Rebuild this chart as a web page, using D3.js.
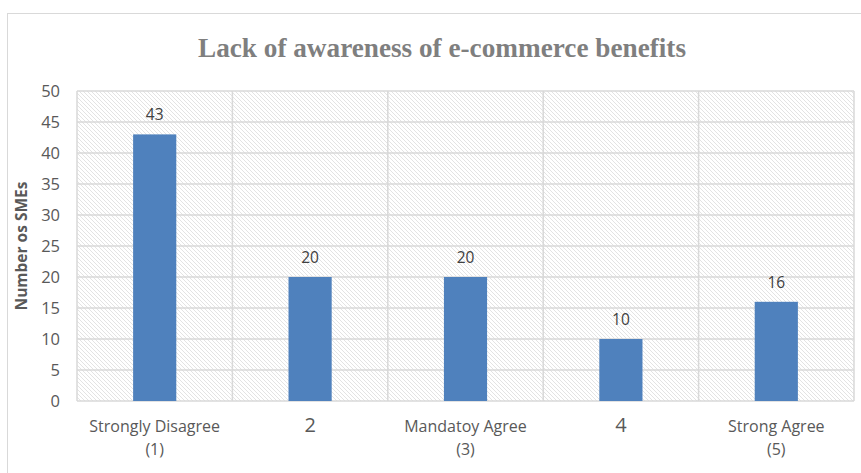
<!DOCTYPE html>
<html>
<head>
<meta charset="utf-8">
<script src="https://cdn.jsdelivr.net/npm/d3@7/dist/d3.min.js"></script>
<style>
  html, body { margin: 0; padding: 0; background: #fff; }
  svg { display: block; }
</style>
</head>
<body>
<svg id="chart" width="861" height="473"></svg>
<script>
// Survey responses: number of SMEs per answer
const categories = ["Strongly Disagree|(1)", "2", "Mandatoy Agree|(3)", "4", "Strong Agree|(5)"];
const values = [43, 20, 20, 10, 16];
const yTicks = [0, 5, 10, 15, 20, 25, 30, 35, 40, 45, 50];
const titleText = "Lack of awareness of e-commerce benefits";
const yLabelText = "Number os SMEs";

const svg = d3.select("#chart");
const W = 861, H = 473;
const plot = { left: 77, right: 854, top: 91, bottom: 401 };

// Outer chart frame
svg.append("rect")
  .attr("x", 7.5).attr("y", 13.5)
  .attr("width", W + 10).attr("height", H + 10)
  .attr("fill", "#fff").attr("stroke", "#d9d9d9").attr("stroke-width", 1);

// Diagonal hatch fill for the plot area
const defs = svg.append("defs");
const pat = defs.append("pattern")
  .attr("id", "hatch").attr("patternUnits", "userSpaceOnUse")
  .attr("width", 4).attr("height", 4);
pat.append("rect").attr("width", 4).attr("height", 4).attr("fill", "#fff");
pat.append("path").attr("d", "M-1,-1 L5,5 M-1,3 L1,5 M3,-1 L5,1")
  .attr("stroke", "#e3e3e3").attr("stroke-width", 1);

const x = d3.scaleBand().domain(categories).range([plot.left, plot.right]).paddingInner(0).paddingOuter(0);
const y = d3.scaleLinear().domain([0, 50]).range([plot.bottom, plot.top]);

svg.append("rect")
  .attr("x", plot.left).attr("y", plot.top)
  .attr("width", plot.right - plot.left).attr("height", plot.bottom - plot.top)
  .attr("fill", "url(#hatch)");

// Horizontal gridlines
svg.append("g").selectAll("line").data(yTicks).join("line")
  .attr("x1", plot.left).attr("x2", plot.right)
  .attr("y1", d => y(d)).attr("y2", d => y(d))
  .attr("stroke", "#d9d9d9").attr("stroke-width", 1.5);

// Vertical category separators
const seps = categories.map(c => x(c)).concat([plot.right]);
svg.append("g").selectAll("line").data(seps).join("line")
  .attr("x1", d => d).attr("x2", d => d)
  .attr("y1", plot.top).attr("y2", plot.bottom)
  .attr("stroke", "#d9d9d9").attr("stroke-width", 1.5);

// Bars
const barW = x.bandwidth() / 3.6;
svg.append("g").selectAll("rect").data(values).join("rect")
  .attr("x", (d, i) => x(categories[i]) + x.bandwidth() / 2 - barW / 2)
  .attr("width", barW)
  .attr("y", d => y(d))
  .attr("height", d => y(0) - y(d))
  .attr("fill", "#4f81bd");

// Value labels
svg.append("g").selectAll("text").data(values).join("text")
  .attr("x", (d, i) => x(categories[i]) + x.bandwidth() / 2)
  .attr("y", d => y(d) - 14)
  .attr("text-anchor", "middle")
  .attr("font-family", "'Open Sans', sans-serif")
  .attr("font-size", 15.5)
  .attr("fill", "#404040")
  .text(d => d);

// Y axis tick labels
const yAxis = d3.axisLeft(y).tickValues(yTicks).tickSize(0).tickPadding(17);
const gy = svg.append("g").attr("transform", `translate(${plot.left},0)`).call(yAxis);
gy.select(".domain").remove();
gy.selectAll("text")
  .attr("font-family", "'Open Sans', sans-serif")
  .attr("font-size", 16.5)
  .attr("fill", "#595959");

// X axis category labels (two lines where needed)
const gx = svg.append("g");
categories.forEach(c => {
  const parts = c.split("|");
  const cx = x(c) + x.bandwidth() / 2;
  const t = gx.append("text")
    .attr("x", cx).attr("y", 432)
    .attr("text-anchor", "middle")
    .attr("font-family", "'Open Sans', sans-serif")
    .attr("font-size", parts.length > 1 ? 16 : 20)
    .attr("fill", "#595959");
  parts.forEach((p, i) => {
    t.append("tspan").attr("x", cx).attr("dy", i === 0 ? 0 : 23).text(p);
  });
});

// Y axis title
svg.append("text")
  .attr("transform", `translate(27,246) rotate(-90)`)
  .attr("text-anchor", "middle")
  .attr("font-family", "'Open Sans', sans-serif")
  .attr("font-weight", "bold")
  .attr("font-size", 15.5)
  .attr("fill", "#595959")
  .text(yLabelText);

// Chart title
svg.append("text")
  .attr("x", 442).attr("y", 57)
  .attr("text-anchor", "middle")
  .attr("font-family", "'Liberation Serif', serif")
  .attr("font-weight", "bold")
  .attr("font-size", 27)
  .attr("textLength", 488)
  .attr("lengthAdjust", "spacingAndGlyphs")
  .attr("fill", "#7f7f7f")
  .text(titleText);
</script>
</body>
</html>
